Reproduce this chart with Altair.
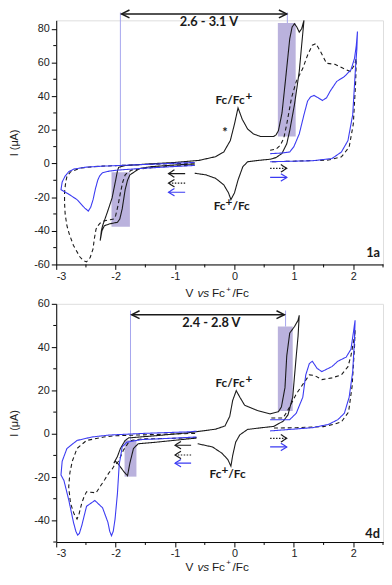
import altair as alt
import pandas as pd

# ---------------- data: panel "1a" ----------------
p1_black = [(-0.67,-0.3),(-1.0,-0.9),(-1.4,-1.9),(-1.6,-3.0),(-1.68,-4.9),(-1.76,-6.8),(-1.80,-10),
            (-1.84,-15.6),(-1.89,-27),(-1.93,-33),(-1.97,-35),(-2.05,-35.5),(-2.11,-36),(-2.19,-37),
            (-2.23,-40),(-2.26,-45.8),(-2.24,-40),(-2.22,-37),(-2.14,-29),(-2.06,-20.5),(-2.0,-10),
            (-1.97,-4.5),(-1.95,-2.3),(-1.85,-1.3),(-1.5,-0.4),(-1.0,0.6),(-0.6,1.8),(-0.32,4),
            (-0.18,6.8),(-0.07,13.6),(0.0,23.4),(0.06,33),(0.13,26.3),(0.22,20.5),(0.32,17.5),
            (0.44,16),(0.66,16),(0.70,17),(0.74,19.5),(0.80,30),(0.86,50),(0.93,74),(0.97,81),
            (1.01,83),(1.05,81),(1.09,78),(1.13,80),(1.17,85),(1.13,70),(1.09,54.6),(1.01,35),
            (0.93,19.5),(0.88,11.7),(0.80,6),(0.70,3.5),(0.60,2.5),(0.40,1.8),(0.22,1.0),(0.14,-2),
            (0.06,-9.8),(0.0,-17.5),(-0.06,-21.5),(-0.1,-17.5),(-0.18,-12.7),(-0.32,-8.8),
            (-0.48,-6.8),(-0.67,-5.8)]
p1_dash_cath = [(-0.67,-1.0),(-1.0,-1.5),(-1.4,-2.5),(-1.65,-3.5),(-1.73,-3.9),(-1.80,-5.5),(-1.84,-6.8),
                (-1.88,-11),(-1.92,-17.5),(-1.96,-25),(-2.0,-31),(-2.03,-33),(-2.11,-33.5),(-2.18,-34),
                (-2.25,-35),(-2.30,-37),(-2.33,-39),(-2.36,-45),(-2.38,-50.7),(-2.43,-56),(-2.49,-58.5),
                (-2.55,-57.5),(-2.60,-55.6),(-2.71,-48.7),(-2.78,-42),(-2.82,-37),(-2.85,-30),(-2.86,-23.4),
                (-2.86,-17),(-2.84,-11),(-2.82,-7.8),(-2.76,-5.0),(-2.6,-2.8),(-2.4,-2.0),(-2.22,-1.6),
                (-1.5,-0.6),(-0.67,0.3)]
p1_dash_anod = [(0.60,7.8),(0.70,8.5),(0.77,10.7),(0.83,15),(0.88,23.4),(0.96,39),(1.04,48.7),(1.15,56.5),
                (1.23,64.3),(1.31,70.2),(1.37,71.2),(1.45,66.3),(1.55,59.5),(1.69,58.9),(1.83,56.5),
                (1.95,54.6),(2.02,58.5),(2.05,62.4),(2.04,48.7),(2.0,23.4),(1.93,9.7),(1.8,3.9),
                (1.58,2.0),(1.04,1.4),(0.60,1.0)]
p1_blue_cath = [(-0.67,-1.2),(-1.0,-1.8),(-1.5,-2.8),(-1.95,-3.9),(-2.1,-4.5),(-2.22,-5.5),(-2.27,-7.5),
                (-2.30,-9.8),(-2.34,-15),(-2.38,-21.5),(-2.42,-26),(-2.46,-28.3),(-2.52,-26.5),
                (-2.65,-21.5),(-2.80,-18),(-2.92,-15.6),(-2.90,-11),(-2.85,-7.5),(-2.79,-4.9),
                (-2.70,-3.3),(-2.5,-2.2),(-2.22,-1.6),(-1.5,-0.6),(-0.67,0.6)]
p1_blue_anod = [(0.60,5.8),(0.80,6.2),(0.93,6.8),(1.0,10),(1.09,17.5),(1.17,29),(1.23,37),(1.28,39.5),
                (1.34,40.4),(1.41,39),(1.48,37.4),(1.55,39),(1.61,42.9),(1.72,48.7),(1.85,51.6),
                (1.96,55.6),(2.02,62.4),(2.05,70),(2.07,78.4),(2.06,68),(2.04,58.5),(1.99,29),
                (1.91,13.6),(1.80,6.8),(1.64,2.9),(1.31,1.6),(0.60,1.0)]

# ---------------- data: panel "4d" ----------------
p2_black = [(-0.64,-2.0),(-1.0,-3.0),(-1.32,-3.9),(-1.62,-4.6),(-1.70,-6.8),(-1.76,-13.5),(-1.80,-19.4),
            (-1.87,-17.2),(-1.95,-14.2),(-2.0,-12.7),(-2.03,-13.5),(-1.97,-10.5),(-1.92,-6.8),
            (-1.84,-3.1),(-1.78,-1.9),(-1.32,-0.9),(-0.8,0.4),(-0.32,2.1),(-0.16,3.6),(-0.08,8),
            (-0.03,15.4),(0.03,19.9),(0.09,16.9),(0.17,13.2),(0.39,10.7),(0.60,9.2),(0.74,10.2),
            (0.79,12.4),(0.85,21.3),(0.88,36),(0.93,46.5),(1.01,49.5),(1.07,52.4),(1.09,54.7),
            (1.07,45),(1.04,36),(0.98,16.9),(0.90,8.7),(0.82,5.8),(0.66,3.4),(0.40,2.6),(0.22,2.0),
            (0.09,-0.5),(0.02,-3.9),(-0.03,-10),(-0.06,-15),(-0.11,-12),(-0.21,-9),(-0.37,-6.1),
            (-0.62,-4.6)]
p2_dash_cath = [(-0.64,-1.8),(-1.0,-2.1),(-1.57,-2.4),(-1.72,-3.0),(-1.78,-3.9),(-1.87,-7.6),(-1.95,-12.7),
                (-2.03,-15),(-2.06,-16.4),(-2.11,-17.9),(-2.18,-21),(-2.25,-23.9),(-2.33,-27.3),
                (-2.42,-27),(-2.49,-26.8),(-2.53,-29),(-2.57,-32),(-2.62,-37.5),(-2.65,-39.4),
                (-2.70,-37),(-2.76,-32),(-2.79,-24.6),(-2.77,-18),(-2.73,-12.7),(-2.65,-6.8),
                (-2.49,-3.1),(-2.2,-1.5),(-2.0,-0.9),(-1.4,-0.4),(-0.64,0.2)]
p2_dash_anod = [(0.62,7.3),(0.82,7.3),(0.93,12.4),(1.04,18.4),(1.15,22.8),(1.26,27.2),(1.34,27),(1.47,25),
                (1.64,25.8),(1.80,27.2),(1.91,31),(1.96,36),(2.02,45),(2.03,48),(2.02,40),(1.98,22),
                (1.92,10),(1.80,5.5),(1.69,4.5),(1.5,3.3),(1.04,2.8),(0.62,2.6)]
p2_blue_cath = [(-0.64,-1.5),(-1.0,-2.0),(-1.57,-2.7),(-1.81,-3.9),(-1.89,-6.1),(-1.94,-14.2),(-1.97,-27.6),
                (-2.01,-39.4),(-2.04,-45),(-2.07,-47.1),(-2.10,-45),(-2.13,-40.9),(-2.22,-34.2),
                (-2.35,-30.8),(-2.49,-33.5),(-2.57,-42.4),(-2.61,-46),(-2.64,-46.8),(-2.67,-45),
                (-2.71,-40.9),(-2.79,-30.5),(-2.87,-21.6),(-2.92,-19),(-2.90,-12.7),(-2.82,-6.8),
                (-2.65,-3.1),(-2.4,-1.5),(-2.11,-0.6),(-1.5,0.2),(-0.75,0.9),(-0.64,1.2)]
p2_blue_anod = [(0.60,6.5),(0.93,6.5),(1.04,9.5),(1.15,16.9),(1.20,27.2),(1.26,32.4),(1.31,33.5),
                (1.39,30.2),(1.47,28.7),(1.64,31),(1.74,33.5),(1.88,35.4),(1.96,39),(2.0,46.5),
                (2.03,52.4),(2.02,43.6),(1.99,28.7),(1.93,16.9),(1.85,9.5),(1.74,6.5),(1.58,4.3),
                (1.31,2.8),(0.60,1.3)]

# shaded windows (V from, V to, I from, I to)
p1_boxes = [(-2.07,-1.76,-37.6,-5.3),(0.73,1.03,16.0,83.4)]
p2_boxes = [(-1.85,-1.65,-19.8,-3.0),(0.73,0.98,10.5,49.5)]
# thin vertical markers (V, I top, I bottom)
p1_marks = [(-1.92,89.7,-3.0),(0.89,89.7,83.4)]
p2_marks = [(-1.75,56.9,-3.0),(0.86,56.9,49.5)]
# double arrow (V left, V right, I) and its label
p1_span = (-1.90,0.88,88.8,"2.6 - 3.1 V",-0.43,84.0)
p2_span = (-1.73,0.84,55.0,"2.4 - 2.8 V",-0.39,51.1)
# small scan-direction arrows (tail V, tip V, I, style)
p1_dir = [(-0.83,-1.11,-6.0,"black"),(-0.83,-1.11,-11.7,"dotted"),(-0.83,-1.11,-17.1,"blue"),
          (0.60,0.88,-2.9,"dotted"),(0.60,0.88,-8.3,"blue")]
p2_dir = [(-0.73,-1.0,-5.3,"black"),(-0.73,-1.0,-9.8,"dotted"),(-0.73,-1.0,-13.6,"blue"),
          (0.60,0.88,-2.1,"dotted"),(0.60,0.88,-6.1,"blue")]

x_major = [-3, -2, -1, 0, 1, 2]
x_minor = [-2.5, -1.5, -0.5, 0.5, 1.5, 2.5]
p1_y_major = [-60, -40, -20, 0, 20, 40, 60, 80]
p1_y_minor = [-50, -30, -10, 10, 30, 50, 70]
p2_y_major = [-40, -20, 0, 20, 40, 60]
p2_y_minor = [-50, -30, -10, 10, 30, 50]

BLACK = "#1a1a1a"
BLUE = "#3b3bf2"
SHADE = "#b6aedb"
VLINE = "#a4a4ee"
W = 332
H1, H2 = 248, 242
PX_PER_V = W / 5.5
NUM_FONT = "Liberation Sans"
ANN_FONT = "Lato"

STYLE_DOM = ["black", "dashed", "blue", "dotted", "bluehead"]
color_scale = alt.Scale(domain=STYLE_DOM, range=[BLACK, BLACK, BLUE, BLACK, BLUE])
dash_scale = alt.Scale(domain=STYLE_DOM, range=[[1, 0], [4, 3], [1, 0], [1.5, 1.5], [1, 0]])


def panel(curves, boxes, marks, span, dirs, ydom, ymaj, ymin, texts, tag, title_dy, H):
    ppu = H / (ydom[1] - ydom[0])
    xs = alt.Scale(domain=[-3, 2.5], nice=False, zero=False)
    ys = alt.Scale(domain=ydom, nice=False, zero=False)
    xaxis = alt.Axis(values=x_major, labelExpr="'' + datum.value", title=None, grid=False,
                     tickSize=5, labelPadding=1, domainColor="#000", tickColor="#000",
                     labelFont=NUM_FONT, labelFontSize=11, labelColor="#222")
    yaxis = alt.Axis(values=ymaj, labelExpr="'' + datum.value", title="I (\u03bcA)", grid=False,
                     tickSize=5, labelPadding=2, titlePadding=14, domainColor="#000", tickColor="#000",
                     labelFont=NUM_FONT, labelFontSize=11, labelColor="#222",
                     titleFont=NUM_FONT, titleFontSize=11, titleFontWeight="normal", titleColor="#222")
    X = lambda: alt.X("V:Q", scale=xs, axis=xaxis)
    Y = lambda: alt.Y("I:Q", scale=ys, axis=yaxis)

    rows = []
    for name, style, pts in curves:
        for k, (v, c) in enumerate(pts):
            rows.append({"trace": name, "style": style, "order": k, "V": v, "I": c})
    cdf = pd.DataFrame(rows)

    bdf = pd.DataFrame([{"V": a, "V2": b, "I": c, "I2": d} for a, b, c, d in boxes])
    mdf = pd.DataFrame([{"V": v, "I": t, "I2": b} for v, t, b in marks])

    layers = []
    layers.append(alt.Chart(bdf).mark_rect(color=SHADE, opacity=0.95).encode(
        x=X(), x2="V2:Q", y=Y(), y2="I2:Q"))
    layers.append(alt.Chart(mdf).mark_rule(color=VLINE, strokeWidth=1).encode(
        x=X(), y=Y(), y2="I2:Q"))
    layers.append(alt.Chart(cdf).mark_line(strokeWidth=1.1).encode(
        x=X(), y=Y(), detail="trace:N", order="order:Q",
        color=alt.Color("style:N", scale=color_scale, legend=None),
        strokeDash=alt.StrokeDash("style:N", scale=dash_scale, legend=None)))

    # small direction arrows
    arows = []
    hl, hh = 6 / PX_PER_V, 3.8 / ppu
    for n, (tail, tip, yy, st) in enumerate(dirs):
        d = 1 if tip > tail else -1
        arows += [{"seg": f"s{n}", "style": st, "o": 0, "V": tail, "I": yy},
                  {"seg": f"s{n}", "style": st, "o": 1, "V": tip, "I": yy}]
        hs = "bluehead" if st == "blue" else "black"
        arows += [{"seg": f"h{n}", "style": hs, "o": 0, "V": tip - d * hl, "I": yy + hh},
                  {"seg": f"h{n}", "style": hs, "o": 1, "V": tip, "I": yy},
                  {"seg": f"h{n}", "style": hs, "o": 2, "V": tip - d * hl, "I": yy - hh}]
    layers.append(alt.Chart(pd.DataFrame(arows)).mark_line(strokeWidth=1.2).encode(
        x=X(), y=Y(), detail="seg:N", order="o:Q",
        color=alt.Color("style:N", scale=color_scale, legend=None),
        strokeDash=alt.StrokeDash("style:N", scale=dash_scale, legend=None)))

    # double arrow spanning the window
    lv, rv, yy, lab, lx, ly = span
    bl, bh = 8 / PX_PER_V, 4 / ppu
    brows = [{"seg": "s", "o": 0, "V": lv, "I": yy}, {"seg": "s", "o": 1, "V": rv, "I": yy},
             {"seg": "l", "o": 0, "V": lv + bl, "I": yy + bh}, {"seg": "l", "o": 1, "V": lv, "I": yy},
             {"seg": "l", "o": 2, "V": lv + bl, "I": yy - bh},
             {"seg": "r", "o": 0, "V": rv - bl, "I": yy + bh}, {"seg": "r", "o": 1, "V": rv, "I": yy},
             {"seg": "r", "o": 2, "V": rv - bl, "I": yy - bh}]
    layers.append(alt.Chart(pd.DataFrame(brows)).mark_line(strokeWidth=1.5, color=BLACK).encode(
        x=X(), y=Y(), detail="seg:N", order="o:Q"))

    def txt(v, i, s, size=12, weight="bold", align="center", dx=0, dy=0, style="normal",
            font=ANN_FONT, ypix=None):
        df = pd.DataFrame({"V": [v], "I": [i], "t": [s]})
        enc = dict(x=X(), text="t:N")
        if ypix is None:
            enc["y"] = Y()
        else:
            enc["y"] = alt.value(ypix)
        return alt.Chart(df).mark_text(fontSize=size, fontWeight=weight, align=align, dx=dx, dy=dy,
                                       font=font, fontStyle=style, color=BLACK,
                                       baseline="middle").encode(**enc)

    layers.append(txt(lx, ly, lab, size=13))
    for t in texts:
        layers.append(txt(**t))
    layers.append(txt(2.45, tag[1], tag[0], size=13, align="right"))

    # x-axis title with italic "vs" and superscript "+"
    ty = H + title_dy
    layers.append(txt(-0.69, 0, "V", size=12, weight="normal", align="right", font=NUM_FONT, ypix=ty))
    layers.append(txt(-0.525, 0, "vs", size=12, weight="normal", style="italic", font=NUM_FONT, ypix=ty))
    layers.append(txt(-0.38, 0, "Fc", size=12, weight="normal", align="left", font=NUM_FONT, ypix=ty))
    layers.append(txt(-0.38, 0, "+", size=8, weight="normal", align="left", dx=14.5, dy=-3.5,
                      font=NUM_FONT, ypix=ty))
    layers.append(txt(-0.38, 0, "/Fc", size=12, weight="normal", align="left", dx=21,
                      font=NUM_FONT, ypix=ty))

    # minor ticks
    layers.append(alt.Chart(pd.DataFrame({"V": x_minor})).mark_rule(color="#000").encode(
        x=X(), y=alt.value(H), y2=alt.value(H + 3)))
    layers.append(alt.Chart(pd.DataFrame({"I": ymin})).mark_rule(color="#000").encode(
        y=Y(), x=alt.value(0), x2=alt.value(-3)))

    return alt.layer(*layers).properties(width=W, height=H)


p1_texts = [dict(v=0.17, i=37.4, s="Fc/Fc", size=12, align="right"),
            dict(v=0.17, i=37.4, s="+", size=12, align="left", dx=1, dy=-4),
            dict(v=-0.16, i=19.9, s="*", size=13, dy=3),
            dict(v=-0.15, i=-25.3, s="Fc", size=12, align="right"),
            dict(v=-0.15, i=-25.3, s="+", size=12, align="left", dy=-4),
            dict(v=-0.15, i=-25.3, s="/Fc", size=12, align="left", dx=7)]
p2_texts = [dict(v=0.17, i=23.6, s="Fc/Fc", size=12, align="right"),
            dict(v=0.17, i=23.6, s="+", size=12, align="left", dx=1, dy=-4),
            dict(v=-0.22, i=-18.7, s="Fc", size=12, align="right"),
            dict(v=-0.22, i=-18.7, s="+", size=12, align="left", dy=-4),
            dict(v=-0.22, i=-18.7, s="/Fc", size=12, align="left", dx=7)]

top = panel([("b", "black", p1_black), ("dc", "dashed", p1_dash_cath), ("da", "dashed", p1_dash_anod),
             ("bc", "blue", p1_blue_cath), ("ba", "blue", p1_blue_anod)],
            p1_boxes, p1_marks, p1_span, p1_dir, [-60, 85], p1_y_major, p1_y_minor,
            p1_texts, ("1a", -53.2), 29.5, H1)
bottom = panel([("b", "black", p2_black), ("dc", "dashed", p2_dash_cath), ("da", "dashed", p2_dash_anod),
                ("bc", "blue", p2_blue_cath), ("ba", "blue", p2_blue_anod)],
               p2_boxes, p2_marks, p2_span, p2_dir, [-50, 60], p2_y_major, p2_y_minor,
               p2_texts, ("4d", -46.5), 25, H2)

chart = alt.vconcat(top, bottom, spacing=40, bounds="flush").properties(
    padding={"left": 0, "top": -6, "right": 0, "bottom": 0}
).configure_view(stroke=None).configure(background="white")

chart.save("out.html", embed_options={"renderer": "svg", "actions": False})
